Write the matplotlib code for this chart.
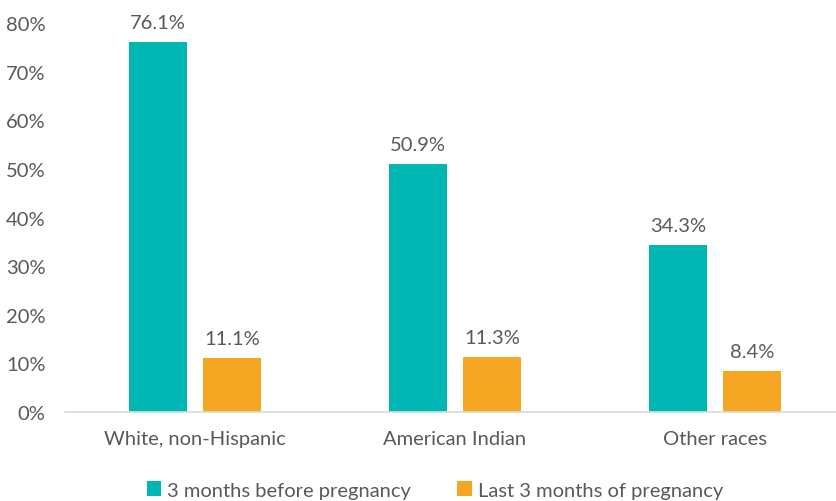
import matplotlib
matplotlib.use("Agg")
import matplotlib.pyplot as plt
import numpy as np

categories = ["White, non-Hispanic", "American Indian", "Other races"]
before = [76.1, 50.9, 34.3]
last3 = [11.1, 11.3, 8.4]
series_names = ["3 months before pregnancy", "Last 3 months of pregnancy"]
yticks = [0, 10, 20, 30, 40, 50, 60, 70, 80]

teal = "#00B7B3"
orange = "#F5A623"
gray = "#595959"

plt.rcParams['font.family'] = ['Lato', 'DejaVu Sans']
FS = 14.5

fig = plt.figure(figsize=(8.36, 5.02), dpi=100)
ax = fig.add_axes([65/836, 1-413/502, (836-65)/836, (413-24)/502])

x = np.arange(len(categories))
w = 0.22
off = 0.142
b1 = ax.bar(x - off, before, w, color=teal, label=series_names[0])
b2 = ax.bar(x + off, last3, w, color=orange, label=series_names[1])

for bars, vals in ((b1, before), (b2, last3)):
    for r, v in zip(bars, vals):
        ax.annotate(f"{v:.1f}%", (r.get_x() + r.get_width()/2, v), xytext=(0, 8),
                    textcoords="offset points", ha="center", va="bottom",
                    fontsize=FS, color=gray, annotation_clip=False)

ax.set_xlim(-0.5, (836-65)/260 - 0.5)
ax.set_ylim(0, 80)
ax.set_yticks(yticks)
ax.set_yticklabels([f"{t}%" for t in yticks])
ax.set_xticks(x)
ax.set_xticklabels(categories)
ax.tick_params(axis='both', length=0, labelsize=FS, colors=gray)
ax.tick_params(axis='x', pad=13)
ax.tick_params(axis='y', pad=14)
for s in ["top", "right", "left"]:
    ax.spines[s].set_visible(False)
ax.spines["bottom"].set_color("#d9d9d9")
ax.spines["bottom"].set_linewidth(1.2)

leg = fig.legend(handles=[b1, b2], loc="center", bbox_to_anchor=(435/836, 1-491/502),
                 ncol=2, frameon=False, fontsize=FS, handlelength=0.7, handleheight=0.7,
                 handletextpad=0.3, columnspacing=2.3)
for t in leg.get_texts():
    t.set_color(gray)

fig.savefig("out.png", dpi=100)
